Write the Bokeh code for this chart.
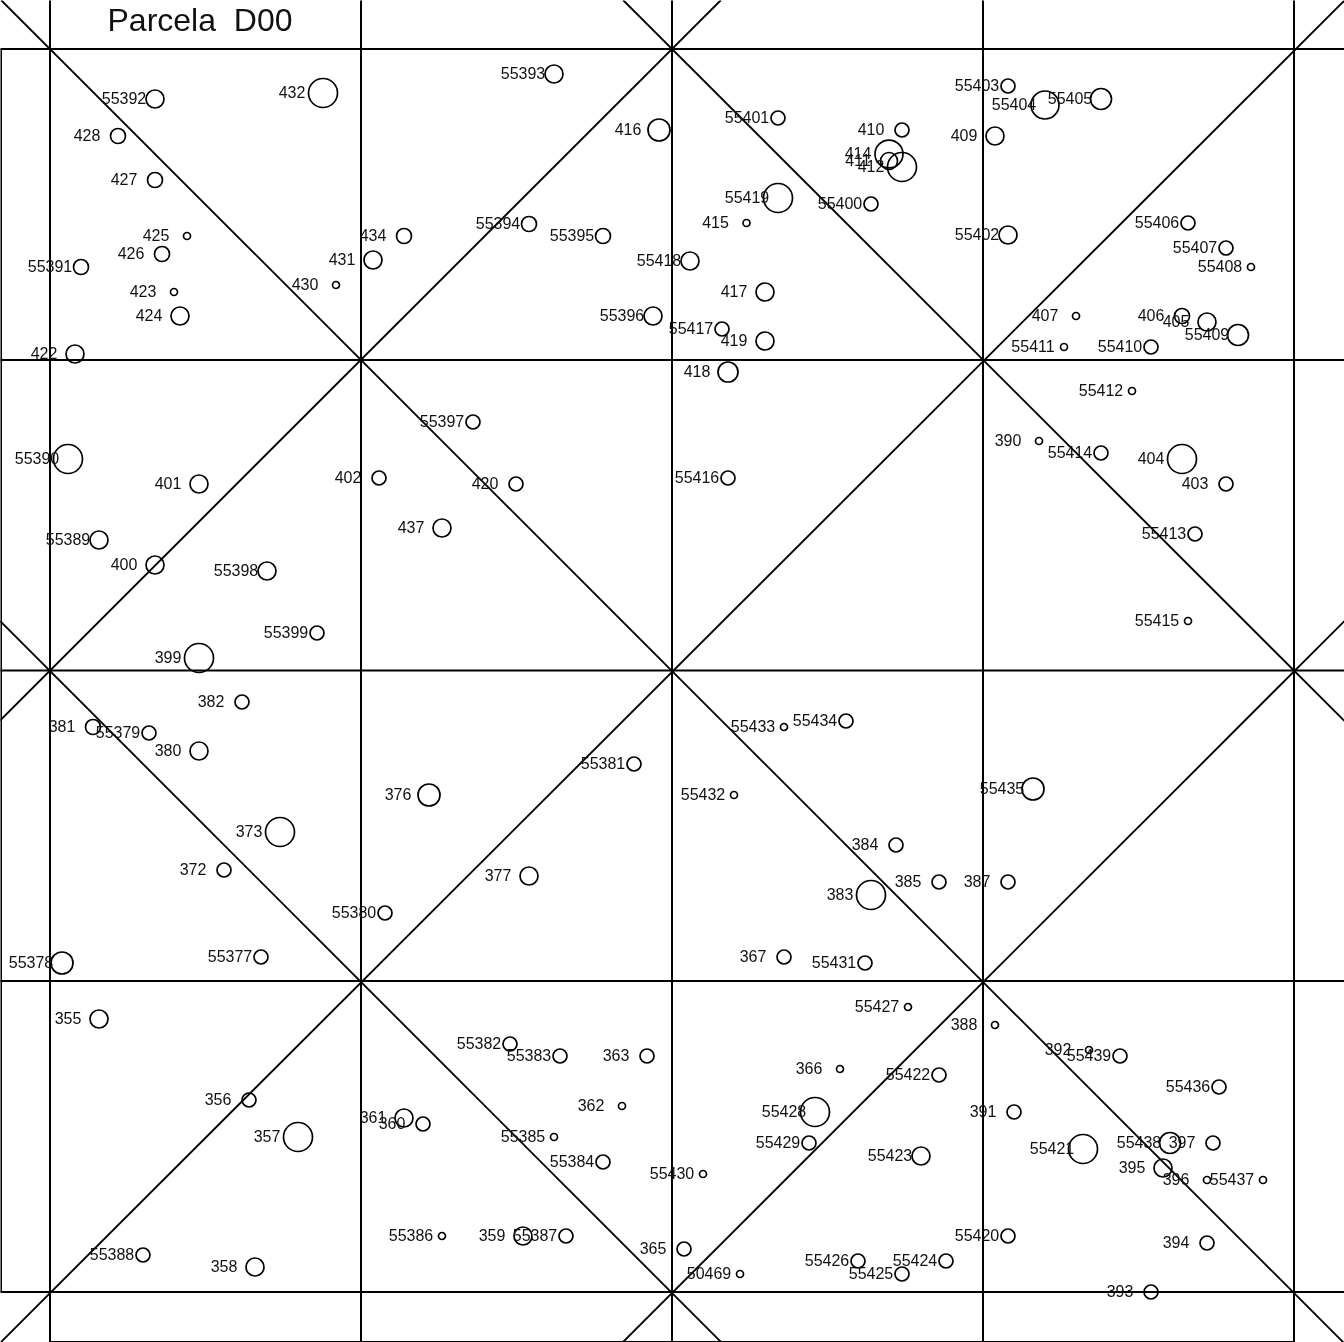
from bokeh.plotting import figure
from bokeh.models import ColumnDataSource, Range1d
from bokeh.core.properties import value
from bokeh.embed import file_html
from bokeh.resources import INLINE

title_text = ["Parcela \u00a0D00"]
title_x = [200]
title_y = [20]

# tree tags, positions on the plot plane, and stem radii
labels = ["55392","432","428","427","425","426","55391","423","424","422","430","431","434",
 "55393","416","55394","55395","55418","55396","55417","419","417","415","55401","55419","55400",
 "410","414","411","412","55403","55404","55405","409","55402","55406","55407","55408","407","406",
 "405","55409","55410","55411",
 "418","55397","55412","390","55414","404","55390","401","402","420","55416","403","437","55413",
 "55389","400","55398","55415","55399","399",
 "382","381","55379","55433","55434","380","55381","376","55432","55435","373","384","372","377",
 "385","387","383","55380","55377","367","55431","55378",
 "55427","355","388","392","55439","55382","55383","363","366","55422","55436","356","362","391",
 "55428","361","360","357","55429","55385","55421","55438","397","55423","55384","395","55430",
 "396","55437","55420","55386","359","55387","394","365","55388","55426","55424","358","55425",
 "50469","393"]
xs = [155,323,118,155,187,162,81,174,180,75,336,373,404,
 554,659,529,603,690,653,722,765,765,746.5,778,778,871,
 902,889,889,902,1008,1045,1101,995,1008,1188,1226,1251,1076,1182,
 1207,1238,1151,1064,
 728,473,1132,1039,1101,1182,68,199,379,516,728,1226,442,1195,
 99,155,267,1188,317,199,
 242,93,149,784,846,199,634,429,734,1033,280,896,224,529,
 939,1008,871,385,261,784,865,62,
 908,99,995,1089,1120,510,560,647,840,939,1219,249,622,1014,
 815,404,423,298,809,554,1083,1170,1213,921,603,1163,703,
 1207,1263,1008,442,523,566,1207,684,143,858,946,255,902,
 740,1151]
ys = [99,93,136,180,236,254,267,292,316,354,285,260,236,
 74,130,224,236,261,316,329,341,292,223,118,198,204,
 130,154,161,167,86,105,99,136,235,223,248,267,316,316,
 322,335,347,347,
 372,422,391,441,453,459,459,484,478,484,478,484,528,534,
 540,565,571,621,633,658,
 702,727,733,727,721,751,764,795,795,789,832,845,870,876,
 882,882,895,913,957,957,963,963,
 1007,1019,1025,1050,1056,1044,1056,1056,1069,1075,1087,1100,1106,1112,
 1112,1118,1124,1137,1143,1137,1149,1143,1143,1156,1162,1168,1174,
 1180,1180,1236,1236,1236,1236,1243,1249,1255,1261,1261,1267,1274,
 1274,1292]
radii = [9,14.5,7.5,7.5,3.5,7.5,7.5,3.5,9,9,3.5,9,7.5,
 9,11,7.5,7.5,9,9,7,9,9,3.5,7,14.5,7,
 7,14,8.5,14.5,7,14,10.5,9,9,7,7,3.5,3.5,7.5,
 9,10.5,7,3.5,
 10,7,3.5,3.5,7,14.5,14.5,9,7,7,7,7,9,7,
 9,9,9,3.5,7,14.5,
 7,7.5,7,3.5,7,9,7,11,3.5,11,14.5,7,7,9,
 7,7,14.5,7,7,7,7,11,
 3.5,9,3.5,3.5,7,7,7,7,3.5,7,7,7,3.5,7,
 14.5,9,7,14.5,7,3.5,14.5,10.5,7,9,7,9,3.5,
 3.5,3.5,7,3.5,9,7,7,7,7,7,7,9,7,
 3.5,7]

# quadrat grid, plot frame and diagonals
grid_x = [50, 361, 672, 983, 1294]
grid_y = [49, 360, 670.5, 981, 1292]
frame_x = [[1, 1], [50, 1294]]
frame_y = [[49, 1292], [1342, 1342]]
diag_x = [[1, 1345], [623, 1345], [0, 722], [0, 1345], [0, 721], [622, 1345]]
diag_y = [[0, 1344], [0, 721.5], [621, 1343], [1343, 0], [720.5, 0], [1343, 620.5]]
WIDTH, HEIGHT = 1344, 1342

p = figure(width=WIDTH, height=HEIGHT, output_backend="svg", toolbar_location=None,
           x_range=Range1d(0.5, WIDTH + 0.5), y_range=Range1d(HEIGHT + 0.5, 0.5),
           x_axis_type=None, y_axis_type=None,
           min_border=0, min_border_left=0, min_border_right=0, min_border_top=0, min_border_bottom=0,
           outline_line_color=None)
p.grid.visible = False
p.styles = {"position": "fixed", "left": "0px", "top": "0px"}

INK = "#000000"
seg_x, seg_y = [], []
for gx in grid_x:
    seg_x.append([gx, gx]); seg_y.append([0, HEIGHT + 1])
for gy in grid_y:
    seg_x.append([0, WIDTH + 1]); seg_y.append([gy, gy])
p.multi_line(seg_x + frame_x, seg_y + frame_y, line_color=INK, line_width=2)
p.multi_line(diag_x, diag_y, line_color=INK, line_width=1.9)

src = ColumnDataSource(dict(x=xs, y=ys, r=radii, label=labels))
p.circle("x", "y", radius="r", source=src, fill_color=None, line_color=INK, line_width=1.7)
p.text("x", "y", text="label", source=src, x_offset=-31, y_offset=-1, text_align="center",
       text_baseline="middle", text_font=value("Liberation Sans"), text_font_size="16px", text_color="#111111")
p.text(title_x, title_y, text=title_text, y_offset=-0.5, text_align="center", text_baseline="middle",
       text_font=value("Liberation Sans"), text_font_size="32px", text_color="#111111")

open("out.html", "w").write(file_html(p, INLINE))
